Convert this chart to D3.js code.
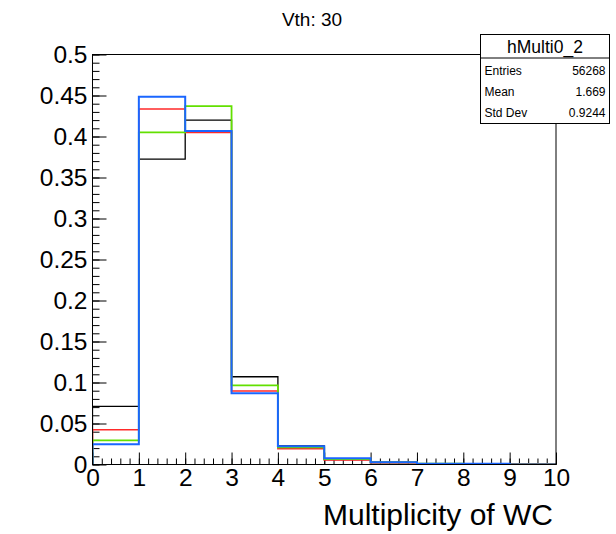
<!DOCTYPE html>
<html>
<head>
<meta charset="utf-8">
<script src="https://cdn.jsdelivr.net/npm/d3@7"></script>
<style>
    html, body { margin: 0; background: #fff; overflow: hidden; }
    svg { display: block; }
    text { font-family: "Liberation Sans", Arial, sans-serif; fill: #000; }
</style>
</head>
<body>
<div id="chart"></div>
<script>
// bin edges 0..10, one value per bin
const binEdges = [0, 1, 2, 3, 4, 5, 6, 7, 8, 9, 10];
const blackValues = [0.0710, 0.3725, 0.4200, 0.1070, 0.0228, 0.0060, 0.0028, 0.0010, 0.0006, 0.0000];
const redValues   = [0.0424, 0.4335, 0.4050, 0.0896, 0.0193, 0.0055, 0.0020, 0.0008, 0.0004, 0.0008];
const greenValues = [0.0295, 0.4050, 0.4370, 0.0966, 0.0210, 0.0065, 0.0025, 0.0009, 0.0005, 0.0000];
const blueValues  = [0.0246, 0.4485, 0.4067, 0.0868, 0.0222, 0.0076, 0.0027, 0.0010, 0.0008, 0.0000];

const yTicks = [0, 0.05, 0.1, 0.15, 0.2, 0.25, 0.3, 0.35, 0.4, 0.45, 0.5];
const xTicks = [0, 1, 2, 3, 4, 5, 6, 7, 8, 9, 10];
const statRows = [['Entries', '56268'], ['Mean', '1.669'], ['Std Dev', '0.9244']];

const title = 'Vth: 30';
const xAxisLabel = 'Multiplicity of WC';
const histName = 'hMulti0_2';

const svgWidth = 616, svgHeight = 534;
const margin = {top: 54.5, right: 60, bottom: 69.5, left: 92.5};
const innerWidth = svgWidth - margin.left - margin.right;
const innerHeight = svgHeight - margin.top - margin.bottom;

const svg = d3.select('#chart').append('svg')
    .attr('width', svgWidth)
    .attr('height', svgHeight);

const g = svg.append('g')
    .attr('transform', `translate(${margin.left},${margin.top})`);

const xScale = d3.scaleLinear()
    .domain([0, 10])
    .range([0, innerWidth]);

const yScale = d3.scaleLinear()
    .domain([0, 0.5])
    .range([innerHeight, 0]);

// y axis: ticks point inward, labels to the left
const yAxis = d3.axisLeft(yScale)
    .tickValues(yTicks)
    .tickFormat(d => d3.format('~g')(d))
    .tickSize(-14)
    .tickPadding(5);
const yMinor = d3.axisLeft(yScale)
    .tickValues(d3.range(0, 51).map(i => i / 100))
    .tickSize(-7);

const yMinorG = g.append('g').call(yMinor);
const yAxisG = g.append('g').call(yAxis);
yAxisG.selectAll('text').attr('font-size', 24.5);

const xAxis = d3.axisBottom(xScale)
    .tickValues(xTicks)
    .tickSize(-12)
    .tickPadding(4);
const xMinor = d3.axisBottom(xScale)
    .tickValues(d3.range(0, 51).map(i => i / 5))
    .tickSize(-6);

const xMinorG = g.append('g').call(xMinor)
    .attr('transform', `translate(0,${innerHeight})`);
const xAxisG = g.append('g').call(xAxis)
    .attr('transform', `translate(0,${innerHeight})`);
xAxisG.selectAll('text').attr('font-size', 24.5);

// minor ticks carry no labels
yMinorG.selectAll('text').remove();
xMinorG.selectAll('text').remove();

[yAxisG, yMinorG, xAxisG, xMinorG].forEach(a => {
    a.selectAll('.domain').remove();
    a.selectAll('line').attr('stroke', '#000').attr('stroke-width', 1);
});

// histograms drawn as step outlines
const stepLine = values => {
    const pts = [[binEdges[0], 0]];
    values.forEach((v, i) => {
        pts.push([binEdges[i], v]);
        pts.push([binEdges[i + 1], v]);
    });
    pts.push([binEdges[binEdges.length - 1], 0]);
    return d3.line()
        .x(d => xScale(d[0]))
        .y(d => yScale(d[1]))(pts);
};

g.append('clipPath').attr('id', 'plotClip')
    .append('rect')
    .attr('width', innerWidth)
    .attr('height', innerHeight);

const hists = [
    {values: blackValues, color: '#000000', width: 1.3},
    {values: redValues, color: '#ff2a2a', width: 1.6},
    {values: greenValues, color: '#62e000', width: 1.8},
    {values: blueValues, color: '#1a66ff', width: 2}
];

g.append('g').attr('clip-path', 'url(#plotClip)')
    .selectAll('path')
    .data(hists)
    .join('path')
    .attr('d', d => stepLine(d.values))
    .attr('fill', 'none')
    .attr('stroke', d => d.color)
    .attr('stroke-width', d => d.width);

// frame
g.append('rect')
    .attr('width', innerWidth)
    .attr('height', innerHeight)
    .attr('fill', 'none')
    .attr('stroke', '#000')
    .attr('stroke-width', 1);

svg.append('text')
    .attr('x', 312)
    .attr('y', 26)
    .attr('text-anchor', 'middle')
    .attr('font-size', 19)
    .text(title);

svg.append('text')
    .attr('x', 553)
    .attr('y', 525)
    .attr('text-anchor', 'end')
    .attr('font-size', 30)
    .text(xAxisLabel);

// stat box
const box = svg.append('g').attr('transform', 'translate(480.5,34.5)');
box.append('rect')
    .attr('width', 129)
    .attr('height', 89)
    .attr('fill', '#fff')
    .attr('stroke', '#000');
box.append('line')
    .attr('x1', 0).attr('x2', 129)
    .attr('y1', 23.5).attr('y2', 23.5)
    .attr('stroke', '#000');
box.append('text')
    .attr('x', 64.5)
    .attr('y', 18)
    .attr('text-anchor', 'middle')
    .attr('font-size', 17.5)
    .text(histName);
statRows.forEach((r, i) => {
    box.append('text')
        .attr('x', 4)
        .attr('y', 40 + i * 21)
        .attr('font-size', 12)
        .text(r[0]);
    box.append('text')
        .attr('x', 125)
        .attr('y', 40 + i * 21)
        .attr('text-anchor', 'end')
        .attr('font-size', 12)
        .text(r[1]);
});
</script>
</body>
</html>
